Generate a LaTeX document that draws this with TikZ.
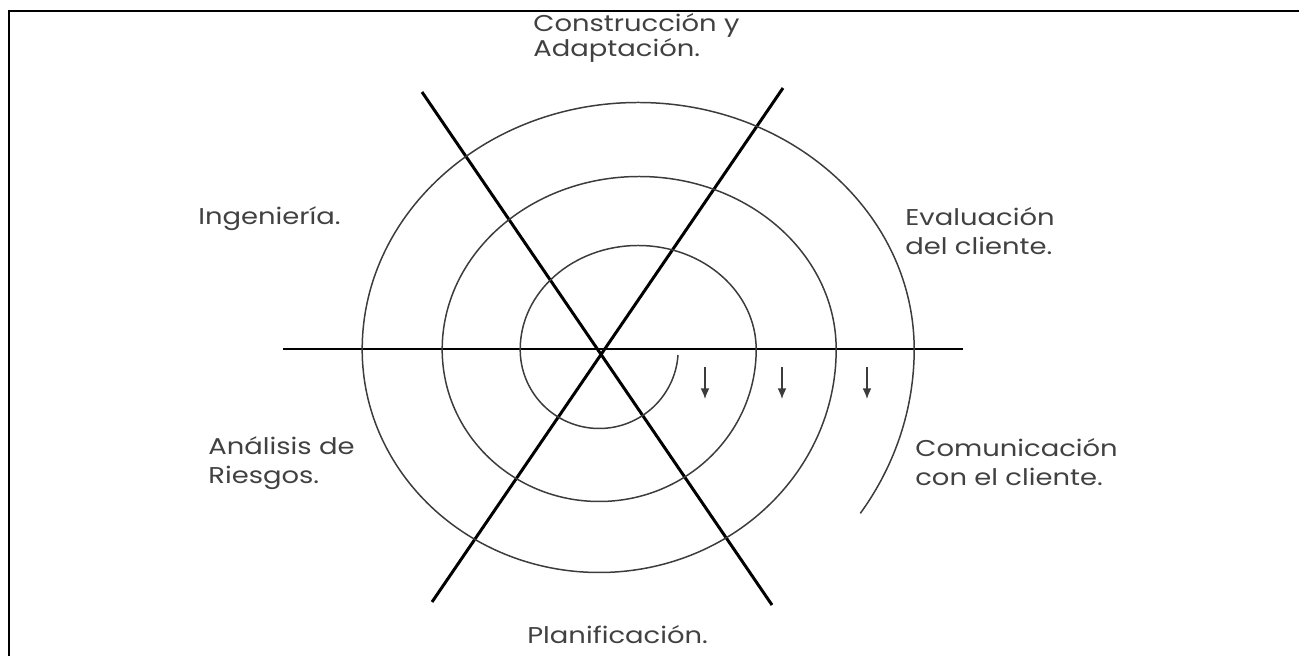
\documentclass[tikz,border=0pt]{standalone}
\usepackage{fontspec}
\setmainfont{Poppins}[FakeStretch=1.2]
\usetikzlibrary{arrows.meta}
\definecolor{spiralgray}{RGB}{60,60,60}
\definecolor{textgray}{RGB}{65,65,65}

\begin{document}
\begin{tikzpicture}[
    x=0.02cm, y=0.02cm,
    axis/.style={line width=1.7pt, black},
    spiral/.style={line width=0.85pt, color=spiralgray},
    turn/.style={-{Latex[length=6pt,width=5pt]}, line width=0.8pt, color=spiralgray},
    phase/.style={anchor=base west, align=left, inner sep=0pt, text=textgray,
                  font=\fontsize{13}{16}\selectfont}
]
\useasboundingbox (0,0) rectangle (1299,-656);

% frame
\draw[line width=1.1pt] (9,-656) -- (9,-11) -- (1299,-11);

% axes
\draw[axis] (283,-349) -- (963,-349);
\draw[axis] (422,-92)  -- (772,-605);
\draw[axis] (783,-88)  -- (432,-602);

% spiral, half turns
\draw[spiral] (678,-355)
    arc[start angle=-4,  end angle=-180, x radius=79,  y radius=79]
    arc[start angle=180, end angle=0,    x radius=118, y radius=104]
    arc[start angle=0,   end angle=-180, x radius=157, y radius=152]
    arc[start angle=180, end angle=0,    x radius=197, y radius=173]
    arc[start angle=0,   end angle=-180, x radius=237, y radius=223]
    arc[start angle=180, end angle=0,    x radius=276, y radius=247]
    arc[start angle=0,   end angle=-34,  x radius=315, y radius=293];

% direction marks
\foreach \x in {705,782,867}
    \draw[turn] (\x,-367) -- (\x,-399);

% quadrant labels (anchored on the last line)
\node[phase, font=\fontsize{13}{14}\selectfont] (build) at (533,-56) {Construcción y\\Adaptación.};
\node[phase] (eng)   at (198,-224) {Ingeniería.};
\node[phase] (eval)  at (905,-254) {Evaluación\\del cliente.};
\node[phase] (risk)  at (208,-483) {Análisis de\\Riesgos.};
\node[phase] (comm)  at (915,-485) {Comunicación\\con el cliente.};
\node[phase] (plan)  at (527,-643) {Planificación.};

\end{tikzpicture}
\end{document}
